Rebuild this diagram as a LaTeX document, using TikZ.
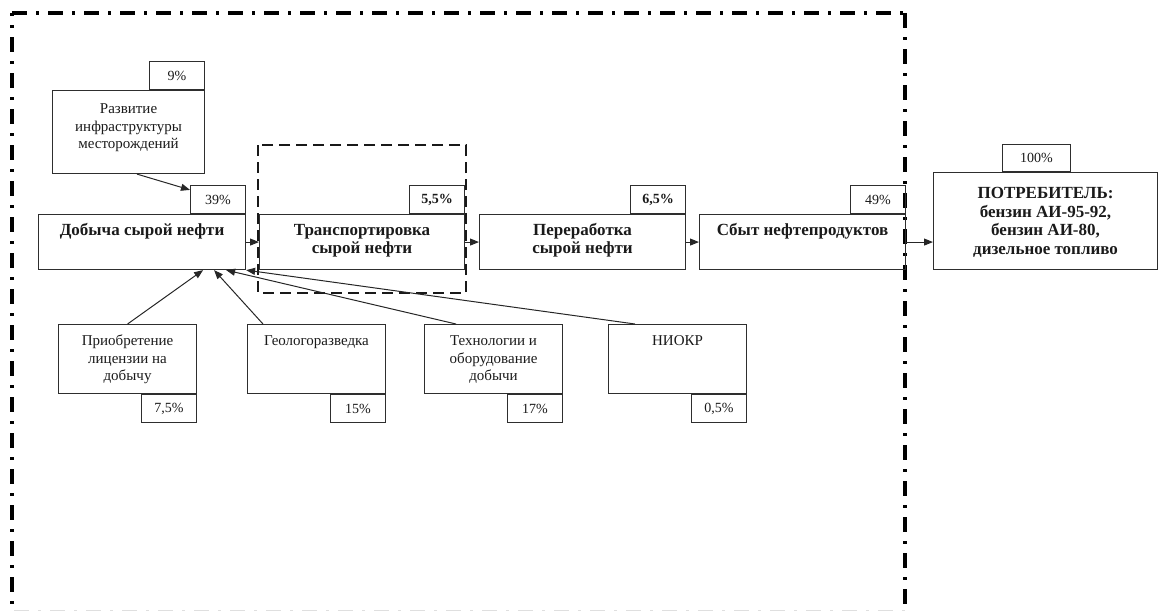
\documentclass[tikz,border=0pt]{standalone}
\usepackage{fontspec}
\setmainfont{Liberation Serif}
\usetikzlibrary{arrows.meta,calc}

% box content: width, height, first-baseline offset, text
\newcommand{\bxt}[4]{\parbox[c][#2][t]{#1}{\centering\rule{0pt}{#3}#4\par}}

\definecolor{boxc}{HTML}{2E2E2E}
\definecolor{txtc}{HTML}{1A1A1A}

\tikzset{
  box/.style={draw=boxc, line width=1.1pt, inner sep=0pt, anchor=north west, text=txtc},
  mainbox/.style={box, font=\fontsize{17}{18}\selectfont\bfseries},
  subbox/.style={box, font=\fontsize{15}{17.5}\selectfont},
  tab/.style={draw=boxc, line width=1.1pt, inner sep=0pt, minimum width=55pt,
    minimum height=28pt, text=txtc, font=\fontsize{14}{16}\selectfont},
  boldtab/.style={tab, font=\fontsize{14}{16}\selectfont\bfseries},
  arr/.style={draw=black!85, line width=1pt, -{Triangle[length=9pt,width=7pt]}},
  frameline/.style={line width=3.2pt, black, dash pattern=on 15pt off 9pt on 3pt off 9pt},
  groupline/.style={line width=2.2pt, black!90, dash pattern=on 11pt off 6pt}
}

\begin{document}
\begin{tikzpicture}[x=1pt,y=-1pt]
\useasboundingbox (0,0) rectangle (1160,611);

% outer dash-dot frame
\draw[frameline] (12,13) -- (905,13);
\draw[frameline, dash phase=12pt] (12,13) -- (12,611);
\draw[frameline] (905,13) -- (905,611);
\draw[gray!25, line width=1pt, dash pattern=on 15pt off 9pt on 3pt off 9pt] (14,610) -- (905,610);

% dashed group round the transport stage
\draw[groupline] (258,145) rectangle (466,293);

% infrastructure
\node[subbox] (raz) at (52,90) {\bxt{152pt}{83pt}{23pt}{Развитие\\инфраструктуры\\месторождений}};
\node[tab, anchor=south east] (t9) at (raz.north east) {9\%};

% main chain
\node[mainbox] (dob) at (38,214) {\bxt{207pt}{55pt}{21pt}{Добыча сырой нефти}};
\node[tab, anchor=south east] (t39) at (dob.north east) {39\%};

\node[mainbox] (tra) at (259,214) {\bxt{205pt}{55pt}{21pt}{Транспортировка\\сырой нефти}};
\node[boldtab, anchor=south east] (t55) at (tra.north east) {5,5\%};

\node[mainbox] (per) at (479,214) {\bxt{206pt}{55pt}{21pt}{Переработка\\сырой нефти}};
\node[boldtab, anchor=south east] (t65) at (per.north east) {6,5\%};

\node[mainbox] (sby) at (699,214) {\bxt{206pt}{55pt}{21pt}{Сбыт нефтепродуктов}};
\node[tab, anchor=south east] (t49) at (sby.north east) {49\%};

\node[mainbox, font=\fontsize{17}{18.5}\selectfont\bfseries] (pot) at (933,172)
  {\bxt{224pt}{97pt}{26pt}{ПОТРЕБИТЕЛЬ:\\бензин АИ-95-92,\\бензин АИ-80,\\дизельное топливо}};
\node[tab, minimum width=68pt, minimum height=27pt, anchor=south west] (t100)
  at ([xshift=69pt]pot.north west) {100\%};

% supporting activities
\node[subbox] (pri) at (58,324) {\bxt{138pt}{69pt}{21pt}{Приобретение\\лицензии на\\добычу}};
\node[tab, anchor=north east] (t75) at (pri.south east) {7,5\%};

\node[subbox] (geo) at (247,324) {\bxt{138pt}{69pt}{21pt}{Геологоразведка}};
\node[tab, anchor=north east] (t15) at (geo.south east) {15\%};

\node[subbox] (teh) at (424,324) {\bxt{138pt}{69pt}{21pt}{Технологии и\\оборудование\\добычи}};
\node[tab, anchor=north east] (t17) at (teh.south east) {17\%};

\node[subbox] (nio) at (608,324) {\bxt{138pt}{69pt}{21pt}{НИОКР}};
\node[tab, anchor=north east] (t05) at (nio.south east) {0,5\%};

% connectors
\draw[arr] ([xshift=85pt]raz.south west) -- ([yshift=-5pt]t39.north west);
\draw[arr] (dob.east) -- (tra.west);
\draw[arr] (tra.east) -- (per.west);
\draw[arr] (per.east) -- (sby.west);
\draw[arr] (sby.east) -- (sby.east -| pot.west);

\draw[arr] (pri.north) -- ([xshift=-43pt]dob.south east);
\draw[arr] ([xshift=16pt]geo.north west) -- ([xshift=-32pt]dob.south east);
\draw[arr] ([xshift=32pt]teh.north west) -- ([xshift=-20pt]dob.south east);
\draw[arr] ([xshift=27pt]nio.north west) -- (dob.south east);
\end{tikzpicture}
\end{document}
